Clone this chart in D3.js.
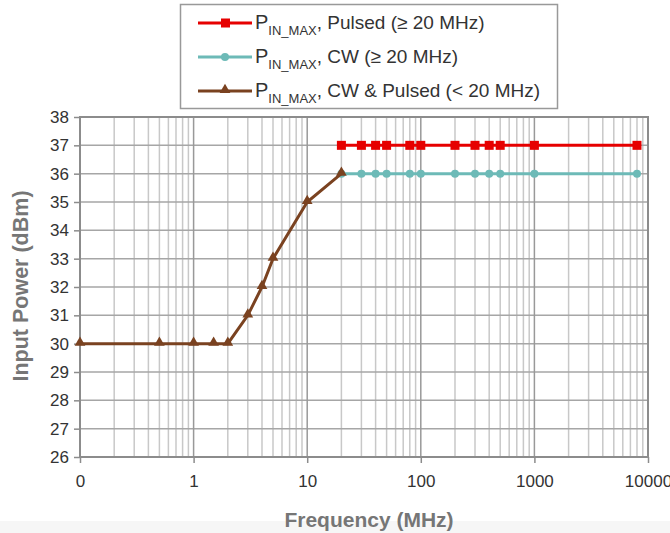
<!DOCTYPE html>
<meta charset="utf-8">
<style>
body { margin: 0; background: #fff; }
svg text { font-family: "Liberation Sans", Arial, sans-serif; }
</style>
<svg id="chart"></svg>
<script src="https://d3js.org/d3.v7.min.js"></script>
<script>
// data
var freqHigh = [20, 30, 40, 50, 80, 100, 200, 300, 400, 500, 1000, 8000];
var pulsedPower = [37, 37, 37, 37, 37, 37, 37, 37, 37, 37, 37, 37];
var cwPower = [36, 36, 36, 36, 36, 36, 36, 36, 36, 36, 36, 36];
var freqLow = [0.1, 0.5, 1, 1.5, 2, 3, 4, 5, 10, 20];
var lowPower = [30, 30, 30, 30, 30, 31, 32, 33, 35, 36];
var xTickValues = [0.1, 1, 10, 100, 1000, 10000];
var xTickLabels = ["0", "1", "10", "100", "1000", "10000"];
var yTickValues = d3.range(26, 39);

var width = 670, height = 533;
var svg = d3.select("#chart").attr("width", width).attr("height", height);

svg.append("rect").attr("x", 0).attr("y", 521).attr("width", width).attr("height", 12).attr("fill", "#f6f6f6");

var x = d3.scaleLog().domain([0.1, 10000]).range([80, 648]);
var y = d3.scaleLinear().domain([26, 38]).range([457, 117]);

// minor vertical grid
var minor = [];
for (var e = -1; e < 4; e++) {
  for (var m = 2; m <= 9; m++) minor.push(m * Math.pow(10, e));
}
var grid = svg.append("g");
grid.selectAll(".minor").data(minor).enter().append("line")
  .attr("x1", function(d) { return x(d); }).attr("x2", function(d) { return x(d); })
  .attr("y1", y(26)).attr("y2", y(38))
  .attr("stroke", "#c8c8c8").attr("stroke-width", 1.5);
grid.selectAll(".hline").data(yTickValues).enter().append("line")
  .attr("x1", x(0.1)).attr("x2", x(10000))
  .attr("y1", function(d) { return y(d); }).attr("y2", function(d) { return y(d); })
  .attr("stroke", "#a6a6a6").attr("stroke-width", 1.5);
grid.selectAll(".major").data(xTickValues).enter().append("line")
  .attr("x1", function(d) { return x(d); }).attr("x2", function(d) { return x(d); })
  .attr("y1", y(26)).attr("y2", y(38))
  .attr("stroke", "#999").attr("stroke-width", 1.5);
svg.append("rect").attr("x", x(0.1)).attr("y", y(38))
  .attr("width", x(10000) - x(0.1)).attr("height", y(26) - y(38))
  .attr("fill", "none").attr("stroke", "#8c8c8c").attr("stroke-width", 2);

// axes
var xAxis = d3.axisBottom(x).tickValues(xTickValues)
  .tickFormat(function(d, i) { return xTickLabels[i]; }).tickSize(6).tickPadding(10);
var gx = svg.append("g").attr("transform", "translate(0," + y(26) + ")").call(xAxis);
gx.select(".domain").remove();
gx.selectAll("line").attr("stroke", "#8c8c8c").attr("stroke-width", 1.5);
gx.selectAll("text").style("font-size", "17px").attr("fill", "#333").attr("dy", "0.85em");

var yAxis = d3.axisLeft(y).tickValues(yTickValues).tickSize(6).tickPadding(5);
var gy = svg.append("g").attr("transform", "translate(" + x(0.1) + ",0)").call(yAxis);
gy.select(".domain").remove();
gy.selectAll("line").attr("stroke", "#8c8c8c").attr("stroke-width", 1.5);
gy.selectAll("text").style("font-size", "17px").attr("fill", "#333");

svg.append("text").attr("x", 369).attr("y", 527).attr("text-anchor", "middle")
  .style("font-size", "21px").style("font-weight", "bold").attr("fill", "#767676")
  .text("Frequency (MHz)");
svg.append("text").attr("transform", "translate(28,286) rotate(-90)").attr("text-anchor", "middle")
  .style("font-size", "21.5px").style("font-weight", "bold").attr("fill", "#767676")
  .text("Input Power (dBm)");

// series
var red = "#e60000", teal = "#6dbab7", brown = "#7a4220";
var line = d3.line().x(function(d) { return x(d[0]); }).y(function(d) { return y(d[1]); });
var pulsed = d3.zip(freqHigh, pulsedPower);
var cw = d3.zip(freqHigh, cwPower);
var low = d3.zip(freqLow, lowPower);

svg.append("path").datum(cw).attr("d", line).attr("fill", "none").attr("stroke", teal).attr("stroke-width", 3);
svg.selectAll(".cwpt").data(cw).enter().append("circle")
  .attr("cx", function(d) { return x(d[0]); }).attr("cy", function(d) { return y(d[1]); })
  .attr("r", 4).attr("fill", teal);

svg.append("path").datum(pulsed).attr("d", line).attr("fill", "none").attr("stroke", red).attr("stroke-width", 3);
svg.selectAll(".plpt").data(pulsed).enter().append("rect")
  .attr("x", function(d) { return x(d[0]) - 4.5; }).attr("y", function(d) { return y(d[1]) - 4.5; })
  .attr("width", 9).attr("height", 9).attr("fill", red);

var tri = d3.symbol().type(d3.symbolTriangle).size(50);
svg.append("path").datum(low).attr("d", line).attr("fill", "none").attr("stroke", brown).attr("stroke-width", 3);
svg.selectAll(".lowpt").data(low).enter().append("path")
  .attr("d", tri).attr("fill", brown)
  .attr("transform", function(d) { return "translate(" + x(d[0]) + "," + (y(d[1]) - 1) + ")"; });

// legend
var legend = svg.append("g");
legend.append("rect").attr("x", 180.5).attr("y", 4.5).attr("width", 377).attr("height", 104)
  .attr("fill", "#fff").attr("stroke", "#999").attr("stroke-width", 1.5);
var items = [
  { label: ", Pulsed (\u2265 20 MHz)", color: red, marker: "square" },
  { label: ", CW (\u2265 20 MHz)", color: teal, marker: "circle" },
  { label: ", CW & Pulsed (< 20 MHz)", color: brown, marker: "triangle" }
];
items.forEach(function(it, i) {
  var cy = 23 + i * 34;
  legend.append("line").attr("x1", 198).attr("x2", 252).attr("y1", cy).attr("y2", cy)
    .attr("stroke", it.color).attr("stroke-width", 3);
  if (it.marker === "square") {
    legend.append("rect").attr("x", 221).attr("y", cy - 4.5).attr("width", 9).attr("height", 9).attr("fill", it.color);
  } else if (it.marker === "circle") {
    legend.append("circle").attr("cx", 225).attr("cy", cy).attr("r", 4).attr("fill", it.color);
  } else {
    legend.append("path").attr("d", tri).attr("fill", it.color).attr("transform", "translate(225," + (cy - 1) + ")");
  }
  var t = legend.append("text").attr("x", 255).attr("y", cy + 6).attr("fill", "#333").style("font-size", "19px");
  t.append("tspan").text("P").style("font-size", "20px");
  t.append("tspan").text("IN_MAX").style("font-size", "13px").attr("dy", 6);
  t.append("tspan").text(it.label).attr("dy", -6);
});
</script>
